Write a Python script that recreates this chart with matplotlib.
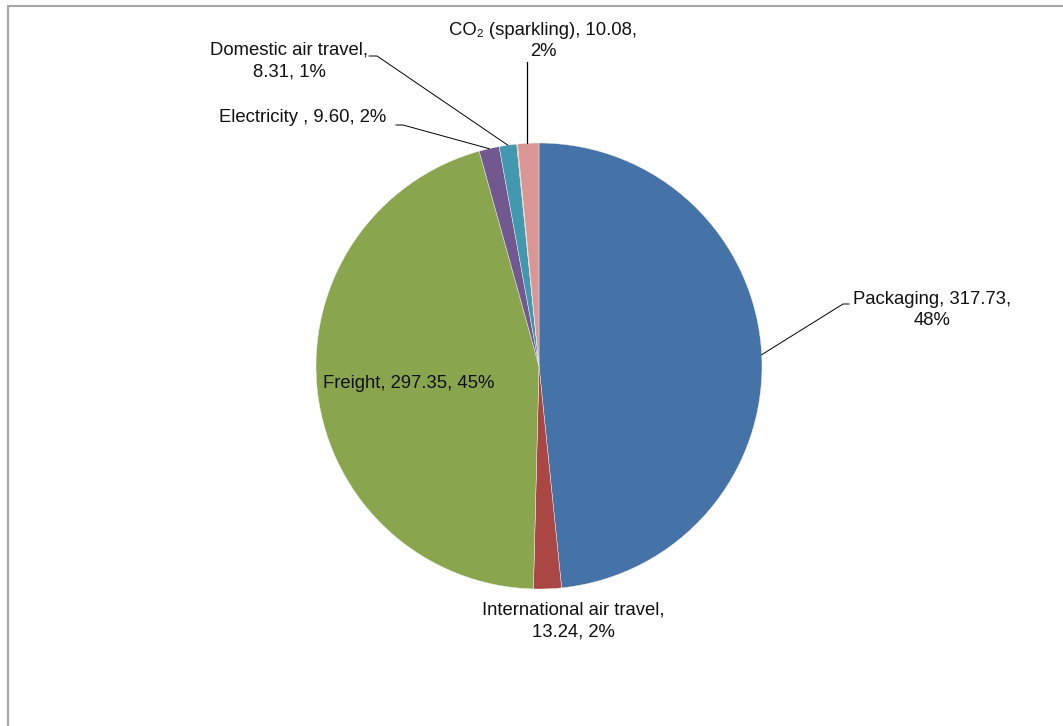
import numpy as np
import matplotlib
matplotlib.use("Agg")
import matplotlib.pyplot as plt
from matplotlib.patches import Rectangle

# ---- data ----
categories = ["Packaging", "International air travel", "Freight", "Electricity ",
              "Domestic air travel", "", "CO\u2082 (sparkling)"]
values = [317.73, 13.24, 297.35, 9.60, 8.31, 0.40, 10.08]
pct_labels = ["48%", "2%", "45%", "2%", "1%", "", "2%"]
colors = ["#4572A7", "#AA4643", "#89A54E", "#71588F", "#4198AF", "#DB843D", "#D99694"]

plt.rcParams['font.family'] = ['Liberation Sans', 'DejaVu Sans']

W, H = 1063, 726
fig = plt.figure(figsize=(W / 100, H / 100), dpi=100)
ax = fig.add_axes([0, 0, 1, 1])

# border frame (extends past right/bottom edges)
fig.patches.append(Rectangle((7.5 / W, -0.1), 1.2, 1 - 6.5 / H + 0.1, transform=fig.transFigure,
                             fill=False, edgecolor="#A6A6A6", linewidth=1.5))

cx, cy, R = 539, H - 366, 223
wedges, _ = ax.pie(values, colors=colors, startangle=90, counterclock=False,
                   center=(cx, cy), radius=R, frame=True,
                   wedgeprops=dict(edgecolor="#F4F4F4", linewidth=0.3))
ax.set_xlim(0, W)
ax.set_ylim(0, H)
ax.set_aspect('equal')
ax.axis('off')

def edge_point(i):
    w = wedges[i]
    mid = np.deg2rad((w.theta1 + w.theta2) / 2)
    return cx + R * np.cos(mid), cy + R * np.sin(mid)

fs = 13.3
def label(i, x, y, two_lines):
    name = categories[i]
    v = f"{values[i]:.2f}"
    if two_lines == 1:
        txt = f"{name}, {v},\n{pct_labels[i]}"
    elif two_lines == 2:
        txt = f"{name},\n{v}, {pct_labels[i]}"
    else:
        txt = f"{name}, {v}, {pct_labels[i]}"
    ax.text(x, H - y, txt, ha='center', va='center', fontsize=fs,
            linespacing=1.32, color="#111111")

# Packaging
label(0, 932, 310, 1)
ex, ey = edge_point(0)
ax.plot([ex, 843, 849], [ey, H - 304, H - 304], color="black", lw=0.7)
# International
label(1, 573, 621, 2)
# Freight
label(2, 409, 383, 0)
# Electricity
label(3, 303, 118, 0)
ex, ey = edge_point(3)
ax.plot([ex, 403, 396], [ey, H - 125, H - 125], color="black", lw=0.7)
# Domestic
label(4, 289, 61, 2)
ex, ey = edge_point(4)
ax.plot([ex, 377, 369], [ey, H - 56, H - 56], color="black", lw=0.7)
# CO2
label(6, 543, 41, 1)
ex, ey = edge_point(6)
ax.plot([ex - 1, ex - 1], [ey, H - 62], color="black", lw=0.9)

fig.savefig("out.png", dpi=100)
